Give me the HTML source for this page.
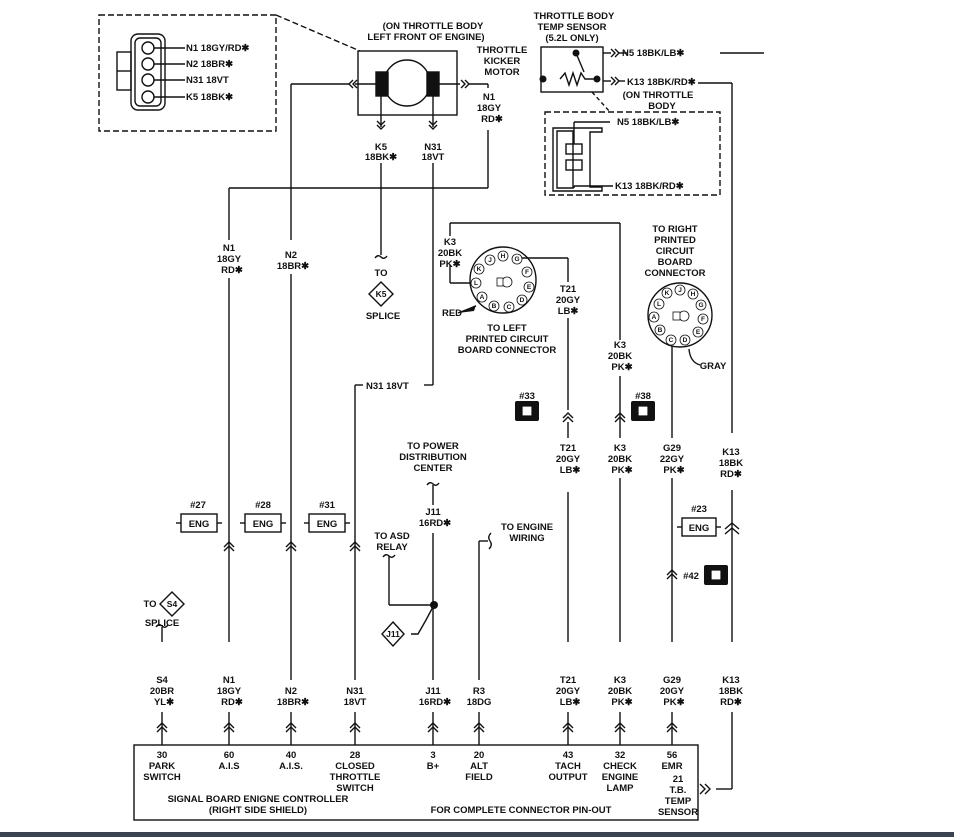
<!DOCTYPE html>
<html><head><meta charset="utf-8"><style>
html,body{margin:0;padding:0;background:#fff;}
svg{display:block;}
text{font-family:"Liberation Sans",sans-serif;font-weight:bold;fill:#111;}
</style></head><body>
<svg width="954" height="837" viewBox="0 0 954 837" xmlns="http://www.w3.org/2000/svg">
<g stroke="#111" stroke-width="1.4" fill="none">
<rect x="99" y="15" width="177" height="116" stroke-dasharray="6,3"/>
<line x1="276" y1="15" x2="360" y2="51" stroke-dasharray="6,3"/>
<rect x="117" y="52" width="14" height="38"/>
<line x1="117" y1="71" x2="131" y2="71"/>
<rect x="131" y="34" width="34" height="76" rx="7"/>
<rect x="135" y="38" width="26" height="68" rx="5"/>
<circle cx="148" cy="48" r="6"/><circle cx="148" cy="64" r="6"/>
<circle cx="148" cy="80" r="6"/><circle cx="148" cy="97" r="6"/>
<line x1="154" y1="48" x2="185" y2="48"/><line x1="154" y1="64" x2="185" y2="64"/>
<line x1="154" y1="80" x2="185" y2="80"/><line x1="154" y1="97" x2="185" y2="97"/>
<rect x="358" y="51" width="99" height="64"/>
<circle cx="407" cy="83" r="23"/>
<rect x="376" y="72" width="12" height="24" fill="#111"/>
<rect x="427" y="72" width="12" height="24" fill="#111"/>
<line x1="376" y1="84" x2="355" y2="84"/>
<path d="M353 80 L349 84 L353 88 M357 80 L353 84 L357 88"/>
<line x1="349" y1="84" x2="291" y2="84"/><line x1="291" y1="84" x2="291" y2="745"/>
<line x1="439" y1="84" x2="460" y2="84"/>
<path d="M461 80 L465 84 L461 88 M465 80 L469 84 L465 88"/>
<line x1="469" y1="84" x2="488" y2="84"/><line x1="488" y1="84" x2="488" y2="88"/>
<line x1="488" y1="130" x2="488" y2="188"/><line x1="488" y1="188" x2="229" y2="188"/>
<line x1="229" y1="188" x2="229" y2="240"/><line x1="229" y1="278" x2="229" y2="745"/>
<line x1="381" y1="96" x2="381" y2="127"/>
<path d="M377 121 L381 125 L385 121 M377 125 L381 129 L385 125"/>
<line x1="381" y1="163" x2="381" y2="255"/>
<path d="M375 258 Q378 254 381 257 Q384 260 387 256"/>
<polygon points="381,282 393,294 381,306 369,294" fill="#fff"/>
<line x1="433" y1="96" x2="433" y2="127"/>
<path d="M429 121 L433 125 L437 121 M429 125 L433 129 L437 125"/>
<line x1="433" y1="163" x2="433" y2="385"/><line x1="433" y1="385" x2="424" y2="385"/>
<line x1="363" y1="385" x2="355" y2="385"/><line x1="355" y1="385" x2="355" y2="745"/>
<rect x="541" y="47" width="62" height="45"/>
<path d="M560 79 L565 73 L569 85 L573 73 L577 85 L581 73 L585 79 L597 79"/>
<line x1="576" y1="53" x2="584" y2="72"/>
<line x1="603" y1="53" x2="611" y2="53"/><line x1="603" y1="81" x2="611" y2="81"/>
<path d="M611 49 L615 53 L611 57 M615 49 L619 53 L615 57"/>
<path d="M611 77 L615 81 L611 85 M615 77 L619 81 L615 85"/>
<line x1="619" y1="53" x2="628" y2="53"/><line x1="619" y1="81" x2="625" y2="81"/>
<line x1="720" y1="53" x2="764" y2="53"/>
<line x1="698" y1="83" x2="732" y2="83"/><line x1="732" y1="83" x2="732" y2="433"/>
<line x1="732" y1="490" x2="732" y2="668"/><line x1="732" y1="712" x2="732" y2="789"/>
<line x1="732" y1="789" x2="716" y2="789"/>
<path d="M700 784 L705 789 L700 794 M705 784 L710 789 L705 794"/>
<line x1="592" y1="92" x2="610" y2="112" stroke-dasharray="4,3"/>
<rect x="545" y="112" width="175" height="83" stroke-dasharray="6,3"/>
<path d="M553 128 L602 128 L602 132 L590 132 L590 187 L602 187 L602 191 L553 191 Z"/>
<path d="M557 131 L573 131 L573 188 L557 188 Z"/>
<rect x="566" y="144" width="16" height="10"/><rect x="566" y="160" width="16" height="10"/>
<line x1="574" y1="144" x2="574" y2="122"/><line x1="574" y1="122" x2="610" y2="122"/>
<line x1="574" y1="188" x2="574" y2="186"/><line x1="574" y1="186" x2="613" y2="186"/>
<circle cx="503" cy="280" r="33"/>
<line x1="450" y1="223" x2="620" y2="223"/><line x1="450" y1="223" x2="450" y2="236"/>
<line x1="450" y1="265" x2="450" y2="283"/><line x1="450" y1="283" x2="474" y2="283"/>
<line x1="522" y1="258" x2="568" y2="258"/><line x1="568" y1="258" x2="568" y2="282"/>
<line x1="568" y1="318" x2="568" y2="410"/><line x1="568" y1="422" x2="568" y2="438"/>
<line x1="568" y1="492" x2="568" y2="680"/><line x1="568" y1="712" x2="568" y2="745"/>
<line x1="620" y1="223" x2="620" y2="340"/><line x1="620" y1="376" x2="620" y2="438"/>
<line x1="620" y1="478" x2="620" y2="680"/><line x1="620" y1="712" x2="620" y2="745"/>
<line x1="458" y1="313" x2="476" y2="306"/>
<circle cx="680" cy="315" r="32"/>
<line x1="672" y1="346" x2="672" y2="438"/><line x1="672" y1="478" x2="672" y2="680"/>
<line x1="672" y1="712" x2="672" y2="745"/>
<path d="M689 349 Q690 362 700 365"/>
<path d="M563 418 L568 413 L573 418 M563 422 L568 417 L573 422"/>
<path d="M615 418 L620 413 L625 418 M615 422 L620 417 L625 422"/>
<path d="M224 547 L229 542 L234 547 M224 551 L229 546 L234 551"/>
<path d="M286 547 L291 542 L296 547 M286 551 L291 546 L296 551"/>
<path d="M350 547 L355 542 L360 547 M350 551 L355 546 L360 551"/>
<path d="M667 575 L672 570 L677 575 M667 579 L672 574 L677 579"/>
<path d="M725 529 L732 523 L739 529 M725 534 L732 528 L739 534"/>
<rect x="181" y="514" width="36" height="18"/><line x1="176" y1="523" x2="181" y2="523"/><line x1="217" y1="523" x2="222" y2="523"/>
<rect x="245" y="514" width="36" height="18"/><line x1="240" y1="523" x2="245" y2="523"/><line x1="281" y1="523" x2="286" y2="523"/>
<rect x="309" y="514" width="36" height="18"/><line x1="304" y1="523" x2="309" y2="523"/><line x1="345" y1="523" x2="350" y2="523"/>
<rect x="682" y="518" width="34" height="18"/><line x1="677" y1="527" x2="682" y2="527"/><line x1="716" y1="527" x2="721" y2="527"/>
<path d="M427 485 Q430 481 433 484 Q436 487 439 483"/>
<line x1="433" y1="485" x2="433" y2="505"/>
<line x1="433" y1="533" x2="433" y2="680"/><line x1="433" y1="712" x2="433" y2="745"/>
<path d="M383 557 Q386 553 389 556 Q392 559 395 555"/>
<line x1="389" y1="556" x2="389" y2="605"/><line x1="389" y1="605" x2="434" y2="605"/>
<path d="M434 605 L426 620 L418 634 L411 634"/>
<polygon points="393,622 404,634 393,646 382,634" fill="#fff"/>
<line x1="479" y1="541" x2="479" y2="680"/><line x1="479" y1="712" x2="479" y2="745"/>
<line x1="479" y1="541" x2="488" y2="541"/>
<path d="M491 533 Q487 537 490 541 Q493 545 489 549"/>
<polygon points="172,592 184,604 172,616 160,604" fill="#fff"/>
<path d="M156 627 Q159 623 162 626 Q165 629 168 625"/>
<line x1="162" y1="627" x2="162" y2="642"/><line x1="162" y1="712" x2="162" y2="745"/>
<path d="M157 728 L162 723 L167 728 M157 732 L162 727 L167 732"/>
<path d="M224 728 L229 723 L234 728 M224 732 L229 727 L234 732"/>
<path d="M286 728 L291 723 L296 728 M286 732 L291 727 L296 732"/>
<path d="M350 728 L355 723 L360 728 M350 732 L355 727 L360 732"/>
<path d="M428 728 L433 723 L438 728 M428 732 L433 727 L438 732"/>
<path d="M474 728 L479 723 L484 728 M474 732 L479 727 L484 732"/>
<path d="M563 728 L568 723 L573 728 M563 732 L568 727 L573 732"/>
<path d="M615 728 L620 723 L625 728 M615 732 L620 727 L625 732"/>
<path d="M667 728 L672 723 L677 728 M667 732 L672 727 L677 732"/>
<rect x="134" y="745" width="564" height="75"/>
</g>
<g fill="#fff">
<rect x="210" y="240" width="40" height="38"/><rect x="270" y="240" width="42" height="34"/>
<rect x="136" y="642" width="50" height="70"/><rect x="205" y="642" width="50" height="70"/>
<rect x="268" y="680" width="46" height="32"/><rect x="335" y="680" width="40" height="32"/>
<rect x="412" y="680" width="44" height="32"/><rect x="462" y="680" width="34" height="32"/>
<rect x="548" y="642" width="40" height="70"/><rect x="600" y="642" width="40" height="70"/>
<rect x="652" y="642" width="40" height="70"/><rect x="712" y="642" width="40" height="70"/>
</g>
<g fill="#111">
<circle cx="434" cy="605" r="4"/>
<circle cx="543" cy="79" r="3.5"/><circle cx="597" cy="79" r="3.5"/><circle cx="576" cy="53" r="3.5"/>
<path d="M458 313 L476 305 L474 311 Z"/>
<rect x="515" y="401" width="24" height="20" rx="2"/><rect x="631" y="401" width="24" height="20" rx="2"/>
<rect x="704" y="565" width="24" height="20" rx="2"/>
<rect x="0" y="832" width="954" height="5" fill="#3c4350"/>
</g>
<g fill="#fff" stroke="#111" stroke-width="1.2">
<rect x="522" y="406" width="10" height="10"/><rect x="638" y="406" width="10" height="10"/><rect x="711" y="570" width="10" height="10"/>
</g>
<g font-size="7" text-anchor="middle" stroke="#111" stroke-width="0.8" fill="#fff">
<circle cx="503" cy="256" r="5"/><circle cx="490" cy="260" r="5"/><circle cx="479" cy="269" r="5"/>
<circle cx="476" cy="283" r="5"/><circle cx="482" cy="297" r="5"/><circle cx="494" cy="306" r="5"/>
<circle cx="509" cy="307" r="5"/><circle cx="522" cy="300" r="5"/><circle cx="529" cy="287" r="5"/>
<circle cx="527" cy="272" r="5"/><circle cx="517" cy="259" r="5"/>
<circle cx="680" cy="290" r="5"/><circle cx="667" cy="293" r="5"/><circle cx="659" cy="304" r="5"/>
<circle cx="654" cy="317" r="5"/><circle cx="660" cy="330" r="5"/><circle cx="671" cy="340" r="5"/>
<circle cx="685" cy="340" r="5"/><circle cx="698" cy="332" r="5"/><circle cx="703" cy="319" r="5"/>
<circle cx="701" cy="305" r="5"/><circle cx="693" cy="294" r="5"/>
<circle cx="507" cy="282" r="5"/><rect x="497" y="278" width="6" height="8"/>
<circle cx="684" cy="316" r="5"/><rect x="673" y="312" width="7" height="8"/>
</g>
<g font-size="6.5" text-anchor="middle">
<text x="503" y="258">H</text><text x="490" y="262">J</text><text x="479" y="271">K</text>
<text x="476" y="285">L</text><text x="482" y="299">A</text><text x="494" y="308">B</text>
<text x="509" y="309">C</text><text x="522" y="302">D</text><text x="529" y="289">E</text>
<text x="527" y="274">F</text><text x="517" y="261">G</text>
<text x="680" y="292">J</text><text x="667" y="295">K</text><text x="659" y="306">L</text>
<text x="654" y="319">A</text><text x="660" y="332">B</text><text x="671" y="342">C</text>
<text x="685" y="342">D</text><text x="698" y="334">E</text><text x="703" y="321">F</text>
<text x="701" y="307">G</text><text x="693" y="296">H</text>
</g>
<g font-size="9.5">
<text x="186" y="51">N1 18GY/RD✱</text><text x="186" y="67">N2 18BR✱</text>
<text x="186" y="83">N31 18VT</text><text x="186" y="100">K5 18BK✱</text>
<text x="622" y="56">N5  18BK/LB✱</text><text x="627" y="85">K13  18BK/RD✱</text>
<text x="617" y="125">N5  18BK/LB✱</text><text x="615" y="189">K13  18BK/RD✱</text>
<text x="366" y="389">N31 18VT</text>
</g>
<g font-size="9.5" text-anchor="middle">
<text x="433" y="29">(ON THROTTLE BODY</text><text x="426" y="40">LEFT FRONT OF ENGINE)</text>
<text x="502" y="53">THROTTLE</text><text x="502" y="64">KICKER</text><text x="502" y="75">MOTOR</text>
<text x="489" y="100">N1</text><text x="489" y="111">18GY</text><text x="492" y="122">RD✱</text>
<text x="574" y="19">THROTTLE BODY</text><text x="572" y="30">TEMP SENSOR</text><text x="572" y="41">(5.2L ONLY)</text>
<text x="658" y="98">(ON THROTTLE</text><text x="662" y="109">BODY</text>
<text x="381" y="150">K5</text><text x="381" y="160">18BK✱</text>
<text x="433" y="150">N31</text><text x="433" y="160">18VT</text>
<text x="229" y="251">N1</text><text x="229" y="262">18GY</text><text x="232" y="273">RD✱</text>
<text x="291" y="258">N2</text><text x="293" y="269">18BR✱</text>
<text x="381" y="276">TO</text><text x="381" y="297" font-size="8.5">K5</text><text x="383" y="319">SPLICE</text>
<text x="450" y="245">K3</text><text x="450" y="256">20BK</text><text x="450" y="267">PK✱</text>
<text x="452" y="316">RED</text>
<text x="507" y="331">TO LEFT</text><text x="507" y="342">PRINTED CIRCUIT</text><text x="507" y="353">BOARD CONNECTOR</text>
<text x="568" y="292">T21</text><text x="568" y="303">20GY</text><text x="568" y="314">LB✱</text>
<text x="675" y="232">TO RIGHT</text><text x="675" y="243">PRINTED</text><text x="675" y="254">CIRCUIT</text><text x="675" y="265">BOARD</text><text x="675" y="276">CONNECTOR</text>
<text x="620" y="348">K3</text><text x="620" y="359">20BK</text><text x="622" y="370">PK✱</text>
<text x="713" y="369">GRAY</text>
<text x="527" y="399">#33</text><text x="643" y="399">#38</text>
<text x="568" y="451">T21</text><text x="568" y="462">20GY</text><text x="570" y="473">LB✱</text>
<text x="620" y="451">K3</text><text x="620" y="462">20BK</text><text x="622" y="473">PK✱</text>
<text x="672" y="451">G29</text><text x="672" y="462">22GY</text><text x="674" y="473">PK✱</text>
<text x="731" y="455">K13</text><text x="731" y="466">18BK</text><text x="731" y="477">RD✱</text>
<text x="433" y="449">TO POWER</text><text x="433" y="460">DISTRIBUTION</text><text x="433" y="471">CENTER</text>
<text x="433" y="515">J11</text><text x="435" y="526">16RD✱</text>
<text x="392" y="539">TO ASD</text><text x="392" y="550">RELAY</text>
<text x="527" y="530">TO ENGINE</text><text x="527" y="541">WIRING</text>
<text x="198" y="508">#27</text><text x="263" y="508">#28</text><text x="327" y="508">#31</text><text x="699" y="512">#23</text>
<text x="199" y="527">ENG</text><text x="263" y="527">ENG</text><text x="327" y="527">ENG</text><text x="699" y="531">ENG</text>
<text x="691" y="579">#42</text>
<text x="393" y="637" font-size="8.5">J11</text>
<text x="172" y="607" font-size="8.5">S4</text><text x="150" y="607">TO</text><text x="162" y="626">SPLICE</text>
<text x="162" y="683">S4</text><text x="162" y="694">20BR</text><text x="164" y="705">YL✱</text>
<text x="229" y="683">N1</text><text x="229" y="694">18GY</text><text x="232" y="705">RD✱</text>
<text x="291" y="694">N2</text><text x="293" y="705">18BR✱</text>
<text x="355" y="694">N31</text><text x="355" y="705">18VT</text>
<text x="433" y="694">J11</text><text x="435" y="705">16RD✱</text>
<text x="479" y="694">R3</text><text x="479" y="705">18DG</text>
<text x="568" y="683">T21</text><text x="568" y="694">20GY</text><text x="570" y="705">LB✱</text>
<text x="620" y="683">K3</text><text x="620" y="694">20BK</text><text x="622" y="705">PK✱</text>
<text x="672" y="683">G29</text><text x="672" y="694">20GY</text><text x="674" y="705">PK✱</text>
<text x="731" y="683">K13</text><text x="731" y="694">18BK</text><text x="731" y="705">RD✱</text>
<text x="162" y="758">30</text><text x="162" y="769">PARK</text><text x="162" y="780">SWITCH</text>
<text x="229" y="758">60</text><text x="229" y="769">A.I.S</text>
<text x="291" y="758">40</text><text x="291" y="769">A.I.S.</text>
<text x="355" y="758">28</text><text x="355" y="769">CLOSED</text><text x="355" y="780">THROTTLE</text><text x="355" y="791">SWITCH</text>
<text x="433" y="758">3</text><text x="433" y="769">B+</text>
<text x="479" y="758">20</text><text x="479" y="769">ALT</text><text x="479" y="780">FIELD</text>
<text x="568" y="758">43</text><text x="568" y="769">TACH</text><text x="568" y="780">OUTPUT</text>
<text x="620" y="758">32</text><text x="620" y="769">CHECK</text><text x="620" y="780">ENGINE</text><text x="620" y="791">LAMP</text>
<text x="672" y="758">56</text><text x="672" y="769">EMR</text>
<text x="678" y="782">21</text><text x="678" y="793">T.B.</text><text x="678" y="804">TEMP</text><text x="678" y="815">SENSOR</text>
<text x="258" y="802">SIGNAL BOARD ENIGNE CONTROLLER</text>
<text x="258" y="813">(RIGHT SIDE SHIELD)</text>
<text x="521" y="813">FOR COMPLETE CONNECTOR PIN-OUT</text>
</g>
</svg>
</body></html>
